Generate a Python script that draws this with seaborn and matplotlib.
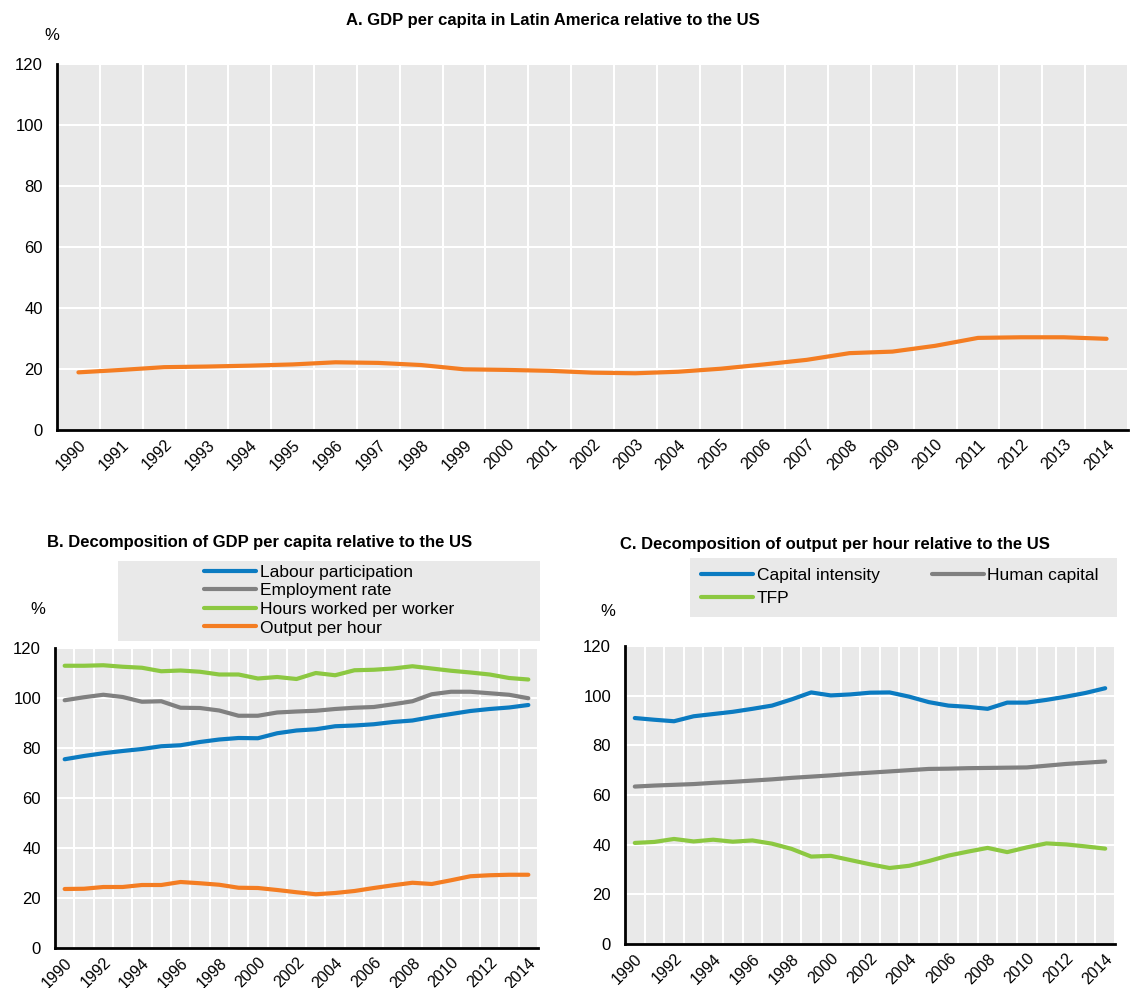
import numpy as np
import pandas as pd
import matplotlib
matplotlib.use('Agg')
import matplotlib.pyplot as plt
from matplotlib.patches import Rectangle
from matplotlib.ticker import MultipleLocator
import seaborn as sns

# --- data ---
years = list(range(1990, 2015))

gdp_per_capita = [18.9, 19.7, 20.6, 20.8, 21.1, 21.5, 22.2, 22.0, 21.3, 19.9,
                  19.7, 19.4, 18.8, 18.6, 19.1, 20.1, 21.5, 23.0, 25.2, 25.7,
                  27.6, 30.2, 30.4, 30.4, 29.9]

labour_participation = [75.5, 76.8, 77.9, 78.8, 79.6, 80.7, 81.1, 82.4, 83.4, 84.0,
                        83.9, 85.9, 87.0, 87.5, 88.7, 89.0, 89.5, 90.4, 91.0, 92.4,
                        93.6, 94.8, 95.6, 96.2, 97.2]
employment_rate = [99.1, 100.3, 101.3, 100.4, 98.5, 98.7, 96.1, 96.0, 95.0, 92.9,
                   92.9, 94.2, 94.6, 94.9, 95.6, 96.1, 96.4, 97.5, 98.7, 101.5,
                   102.5, 102.5, 101.9, 101.3, 99.9]
hours_worked = [112.9, 112.9, 113.1, 112.5, 112.1, 110.7, 111.0, 110.5, 109.4, 109.4,
                107.8, 108.4, 107.6, 110.0, 109.1, 111.1, 111.3, 111.8, 112.7, 111.8,
                110.9, 110.2, 109.4, 108.0, 107.4]
output_per_hour = [23.6, 23.7, 24.4, 24.4, 25.2, 25.2, 26.4, 25.9, 25.3, 24.1,
                   24.0, 23.2, 22.3, 21.5, 22.0, 22.8, 24.0, 25.1, 26.1, 25.6,
                   27.1, 28.7, 29.1, 29.3, 29.3]

capital_intensity = [91.0, 90.3, 89.7, 91.7, 92.6, 93.5, 94.7, 96.0, 98.5, 101.3,
                     100.1, 100.5, 101.2, 101.3, 99.6, 97.4, 96.0, 95.5, 94.7, 97.2,
                     97.2, 98.3, 99.6, 101.1, 103.0]
human_capital = [63.4, 63.8, 64.1, 64.4, 64.9, 65.3, 65.8, 66.3, 66.9, 67.4,
                 67.9, 68.5, 69.0, 69.5, 70.0, 70.5, 70.6, 70.8, 70.9, 71.0,
                 71.1, 71.8, 72.5, 73.0, 73.5]
tfp = [40.7, 41.1, 42.3, 41.3, 42.0, 41.2, 41.7, 40.4, 38.3, 35.2,
       35.5, 33.8, 32.1, 30.6, 31.5, 33.4, 35.6, 37.2, 38.7, 37.0,
       38.9, 40.5, 40.1, 39.3, 38.4]

ORANGE = '#F47D22'
BLUE = '#0B7BC1'
GREY = '#808080'
GREEN = '#8CC841'
BG = '#E9E9E9'

sns.set_style('white')
plt.rcParams['font.family'] = ['Liberation Sans', 'DejaVu Sans']
plt.rcParams.update({'text.color': 'black', 'axes.labelcolor': 'black',
                     'xtick.color': 'black', 'ytick.color': 'black'})

df_a = pd.DataFrame({'year': years, 'value': gdp_per_capita})
df_b = pd.DataFrame({'year': years,
                     'Labour participation': labour_participation,
                     'Employment rate': employment_rate,
                     'Hours worked per worker': hours_worked,
                     'Output per hour': output_per_hour}).melt('year', var_name='series')
df_c = pd.DataFrame({'year': years,
                     'Capital intensity': capital_intensity,
                     'Human capital': human_capital,
                     'TFP': tfp}).melt('year', var_name='series')


def style_axis(ax, step):
    ax.set_facecolor(BG)
    ax.set_xlim(1989.5, 2014.5)
    ax.set_ylim(0, 120)
    ax.yaxis.set_major_locator(MultipleLocator(20))
    ax.set_xticks(years[::step])
    ax.set_xticklabels([str(y) for y in years[::step]])
    ax.set_xticks(np.arange(1989.5, 2015, 1), minor=True)
    ax.grid(axis='y', which='major', color='white', lw=1.5)
    ax.grid(axis='x', which='minor', color='white', lw=1.5)
    ax.grid(axis='x', which='major', visible=False)
    ax.tick_params(axis='x', which='major', length=0, labelsize=11.5, pad=5)
    ax.tick_params(axis='x', which='minor', direction='in', length=5, width=1.5)
    ax.tick_params(axis='y', direction='in', length=5, width=1.5, labelsize=12, pad=10)
    for lab in ax.get_xticklabels():
        lab.set_rotation(45)
        lab.set_ha('right')
        lab.set_rotation_mode('anchor')
    for s in ['top', 'right']:
        ax.spines[s].set_visible(False)
    for s in ['left', 'bottom']:
        ax.spines[s].set_color('black')
        ax.spines[s].set_linewidth(2)
    ax.set_xlabel('')
    ax.set_ylabel('')
    ax.set_axisbelow(True)


W, H = 1139, 988
fig = plt.figure(figsize=(W / 100, H / 100), dpi=100)


def fx(px):
    return px / W


def fy(py):
    return 1 - py / H


ax_a = fig.add_axes([fx(57), fy(430), fx(1128 - 57), (430 - 64) / H])
ax_b = fig.add_axes([fx(55), fy(948), fx(538 - 55), (948 - 648) / H])
ax_c = fig.add_axes([fx(625), fy(944), fx(1115 - 625), (944 - 646) / H])

sns.lineplot(data=df_a, x='year', y='value', color=ORANGE, lw=3, ax=ax_a)
sns.lineplot(data=df_b, x='year', y='value', hue='series',
             palette=[BLUE, GREY, GREEN, ORANGE], lw=3, ax=ax_b)
sns.lineplot(data=df_c, x='year', y='value', hue='series',
             palette=[BLUE, GREY, GREEN], lw=3, ax=ax_c)

style_axis(ax_a, 1)
style_axis(ax_b, 2)
style_axis(ax_c, 2)

# titles and unit labels
fig.text(fx(553), fy(21), 'A. GDP per capita in Latin America relative to the US',
         ha='center', va='center', fontsize=12, fontweight='bold')
fig.text(fx(260), fy(542), 'B. Decomposition of GDP per capita relative to the US',
         ha='center', va='center', fontsize=12, fontweight='bold')
fig.text(fx(835), fy(544), 'C. Decomposition of output per hour relative to the US',
         ha='center', va='center', fontsize=12, fontweight='bold')
fig.text(fx(52), fy(36), '%', ha='center', va='center', fontsize=12)
fig.text(fx(38), fy(610), '%', ha='center', va='center', fontsize=12)
fig.text(fx(608), fy(612), '%', ha='center', va='center', fontsize=12)

# legends on grey boxes
fig.add_artist(Rectangle((fx(118), fy(641)), fx(540 - 118), (641 - 561) / H,
                         transform=fig.transFigure, facecolor=BG, edgecolor='none', zorder=0))
fig.add_artist(Rectangle((fx(690), fy(617)), fx(1117 - 690), (617 - 558) / H,
                         transform=fig.transFigure, facecolor=BG, edgecolor='none', zorder=0))

h, l = ax_b.get_legend_handles_labels()
ax_b.legend(h, l, loc='center', bbox_to_anchor=(fx(329), fy(600)),
            bbox_transform=fig.transFigure, frameon=False, fontsize=12.5,
            handlelength=3.0, handletextpad=0.2, labelspacing=0.2,
            borderpad=0)
h, l = ax_c.get_legend_handles_labels()
order = [0, 2, 1]
ax_c.legend([h[i] for i in order], [l[i] for i in order], loc='center',
            bbox_to_anchor=(fx(900), fy(587)),
            bbox_transform=fig.transFigure, frameon=False, fontsize=12.5, ncol=2,
            handlelength=3.0, handletextpad=0.2, labelspacing=0.5,
            columnspacing=3.0, borderpad=0)

fig.savefig('out.png', dpi=100)
